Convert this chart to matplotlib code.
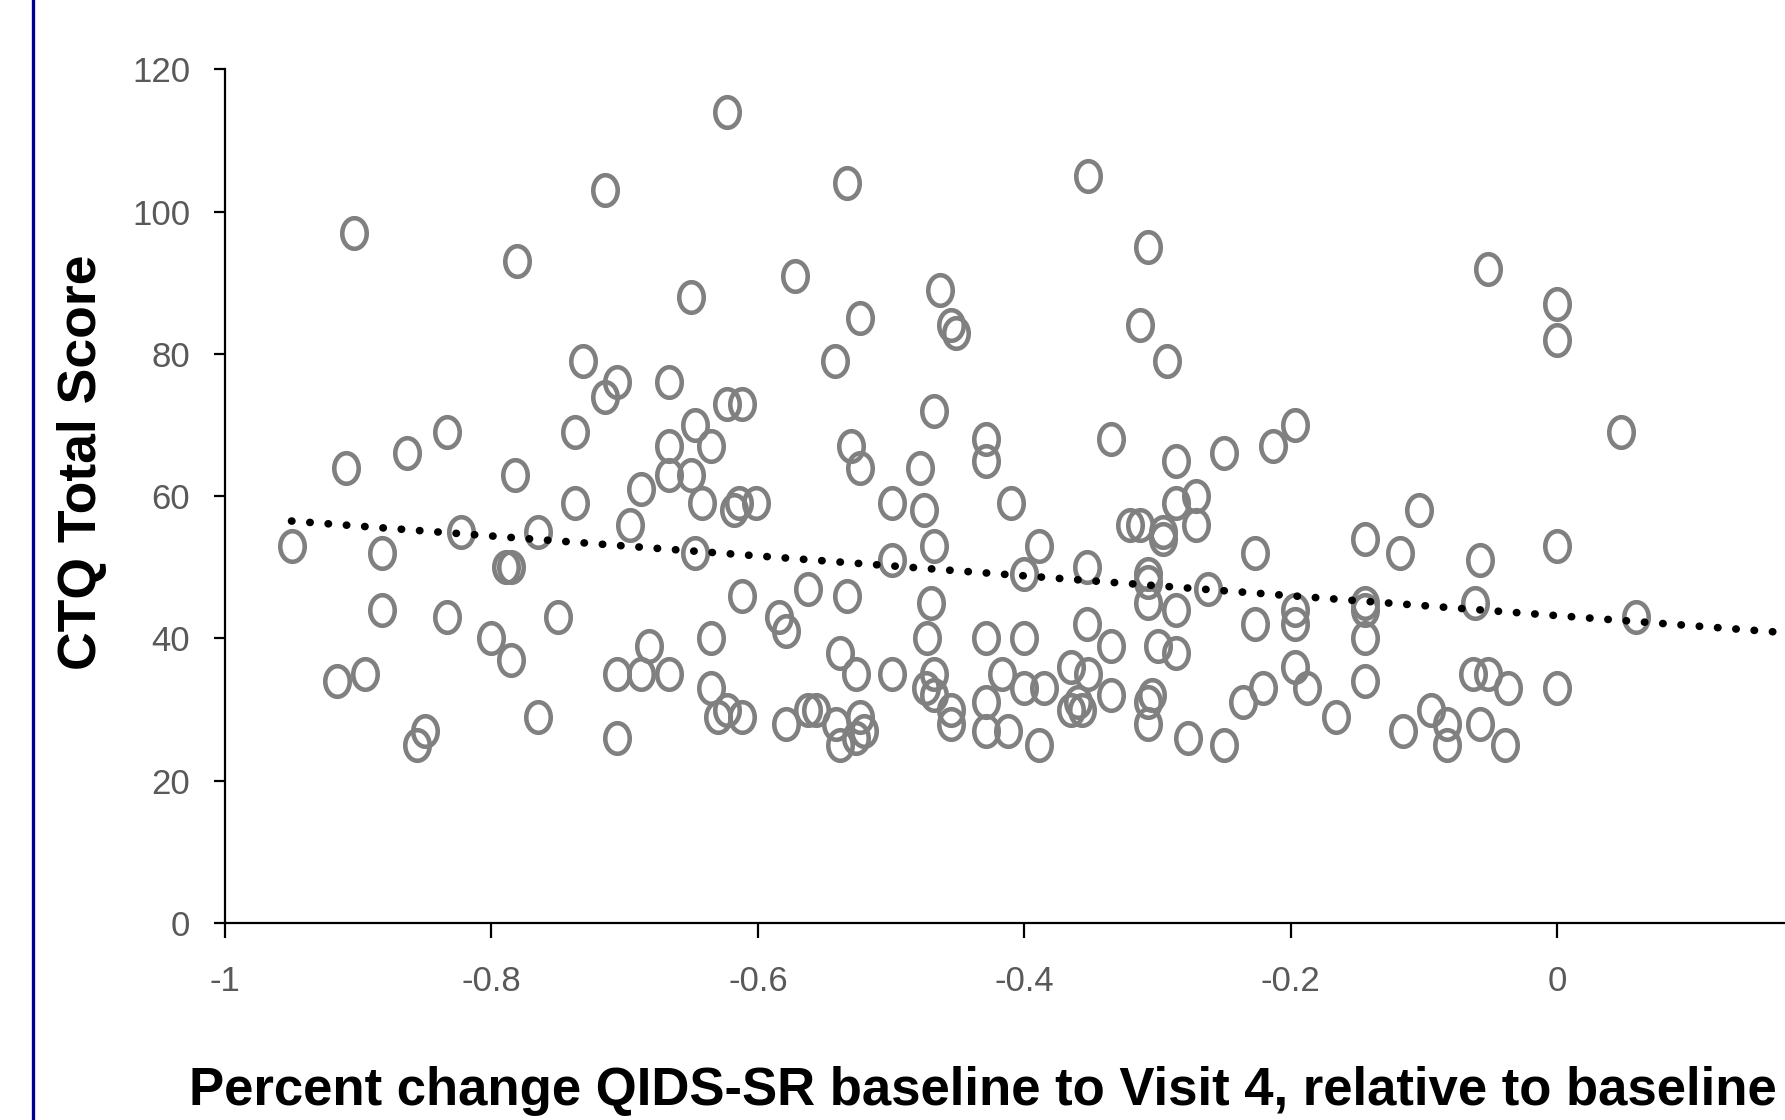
import numpy as np
import matplotlib.pyplot as plt
from matplotlib.path import Path

# percent change QIDS-SR (x) vs CTQ total score (y)
qids_change = [-0.950, -0.916, -0.909, -0.903, -0.895, -0.882, -0.882, -0.863, -0.856, -0.850,
               -0.833, -0.833, -0.823, -0.800, -0.789, -0.785, -0.785, -0.782, -0.781, -0.765,
               -0.765, -0.750, -0.737, -0.737, -0.731, -0.715, -0.715, -0.706, -0.706, -0.706,
               -0.696, -0.688, -0.688, -0.682, -0.667, -0.667, -0.667, -0.667, -0.650, -0.647,
               -0.650, -0.647, -0.642, -0.635, -0.635, -0.635, -0.630, -0.623, -0.623, -0.623,
               -0.618, -0.614, -0.612, -0.612, -0.612, -0.601, -0.584, -0.579, -0.579, -0.572,
               -0.562, -0.562, -0.556, -0.542, -0.541, -0.538, -0.538, -0.533, -0.533, -0.530,
               -0.526, -0.526, -0.523, -0.523, -0.523, -0.520, -0.499, -0.499, -0.499, -0.478,
               -0.475, -0.473, -0.470, -0.474, -0.468, -0.468, -0.468, -0.468, -0.463, -0.455,
               -0.451, -0.455, -0.455, -0.429, -0.429, -0.429, -0.429, -0.429, -0.417, -0.412,
               -0.410, -0.400, -0.400, -0.400, -0.389, -0.389, -0.385, -0.365, -0.365, -0.360,
               -0.357, -0.353, -0.353, -0.352, -0.352, -0.335, -0.335, -0.335, -0.321, -0.313,
               -0.313, -0.307, -0.307, -0.307, -0.307, -0.307, -0.307, -0.304, -0.300, -0.296,
               -0.296, -0.293, -0.286, -0.286, -0.286, -0.286, -0.277, -0.271, -0.271, -0.262,
               -0.250, -0.250, -0.236, -0.227, -0.227, -0.221, -0.213, -0.197, -0.197, -0.197,
               -0.197, -0.188, -0.166, -0.144, -0.144, -0.144, -0.144, -0.144, -0.118, -0.116,
               -0.104, -0.095, -0.083, -0.083, -0.062, -0.063, -0.058, -0.058, -0.052, -0.052,
               -0.037, -0.039, 0.0, 0.0, 0.0, 0.0, 0.048, 0.059]
ctq_score = [53, 34, 64, 97, 35, 52, 44, 66, 25, 27,
             69, 43, 55, 40, 50, 50, 37, 63, 93, 29,
             55, 43, 69, 59, 79, 74, 103, 76, 35, 26,
             56, 35, 61, 39, 76, 67, 63, 35, 88, 70,
             63, 52, 59, 67, 40, 33, 29, 114, 73, 30,
             58, 59, 73, 46, 29, 59, 43, 41, 28, 91,
             47, 30, 30, 79, 28, 38, 25, 104, 46, 67,
             35, 26, 64, 85, 29, 27, 59, 51, 35, 64,
             58, 40, 45, 33, 72, 53, 35, 32, 89, 84,
             83, 30, 28, 68, 65, 40, 31, 27, 35, 27,
             59, 49, 40, 33, 53, 25, 33, 36, 30, 31,
             30, 50, 42, 105, 35, 68, 39, 32, 56, 56,
             84, 95, 49, 48, 45, 31, 28, 32, 39, 55,
             54, 79, 65, 59, 44, 38, 26, 60, 56, 47,
             66, 25, 31, 52, 42, 33, 67, 70, 44, 42,
             36, 33, 29, 54, 45, 44, 40, 34, 52, 27,
             58, 30, 28, 25, 45, 35, 28, 51, 92, 35,
             33, 25, 87, 82, 53, 33, 69, 43]

# dotted linear trend line as drawn (slope / intercept)
trend_slope = -14.0
trend_intercept = 43.2
trend_start = -0.95
trend_end = 0.2

x_ticks = [-1, -0.8, -0.6, -0.4, -0.2, 0]
x_ticklabels = ['-1', '-0.8', '-0.6', '-0.4', '-0.2', '0']
y_ticks = [0, 20, 40, 60, 80, 100, 120]

plt.rcParams['font.family'] = ['Liberation Sans', 'DejaVu Sans']

fig = plt.figure(figsize=(17.85, 11.2), dpi=100)
ax = fig.add_axes([0.126, 0.176, 0.874, 0.762])

# slightly tall ellipse marker, like the squashed original
t = np.linspace(0, 2 * np.pi, 60)
ring = Path(np.column_stack([0.8 * np.cos(t), np.sin(t)]), closed=True)

ax.plot(qids_change, ctq_score, linestyle='none', marker=ring, markersize=22,
        markerfacecolor='none', markeredgecolor='#808080', markeredgewidth=3.3)

tx = np.array([trend_start, trend_end])
ax.plot(tx, trend_slope * tx + trend_intercept, color='black', linewidth=5.5,
        linestyle=(0, (0.05, 2.35)), dash_capstyle='round')

ax.set_xlim(-1, 0.171)
ax.set_ylim(0, 120)
ax.set_xticks(x_ticks)
ax.set_xticklabels(x_ticklabels)
ax.set_yticks(y_ticks)

for side in ['top', 'right']:
    ax.spines[side].set_visible(False)
for side in ['left', 'bottom']:
    ax.spines[side].set_linewidth(1.6)
    ax.spines[side].set_color('black')

ax.tick_params(axis='y', direction='out', length=8, width=1.6, pad=17,
               labelsize=25, labelcolor='#595959')
ax.tick_params(axis='x', direction='out', length=11, width=1.6, pad=19,
               labelsize=25, labelcolor='#595959')

fig.text(0.046, 0.5875, 'CTQ Total Score', rotation=90, ha='center', va='center',
         fontsize=38.5, fontweight='bold', color='black')
fig.text(0.5505, 0.013, 'Percent change QIDS-SR baseline to Visit 4, relative to baseline',
         ha='center', va='baseline', fontsize=38, fontweight='bold', color='black')

# blue frame edge on the left of the slide
fig.add_artist(plt.Line2D([0.0185, 0.0185], [0, 1], color='#000090', linewidth=2.4,
                          transform=fig.transFigure))

fig.savefig('out.png', dpi=100)
